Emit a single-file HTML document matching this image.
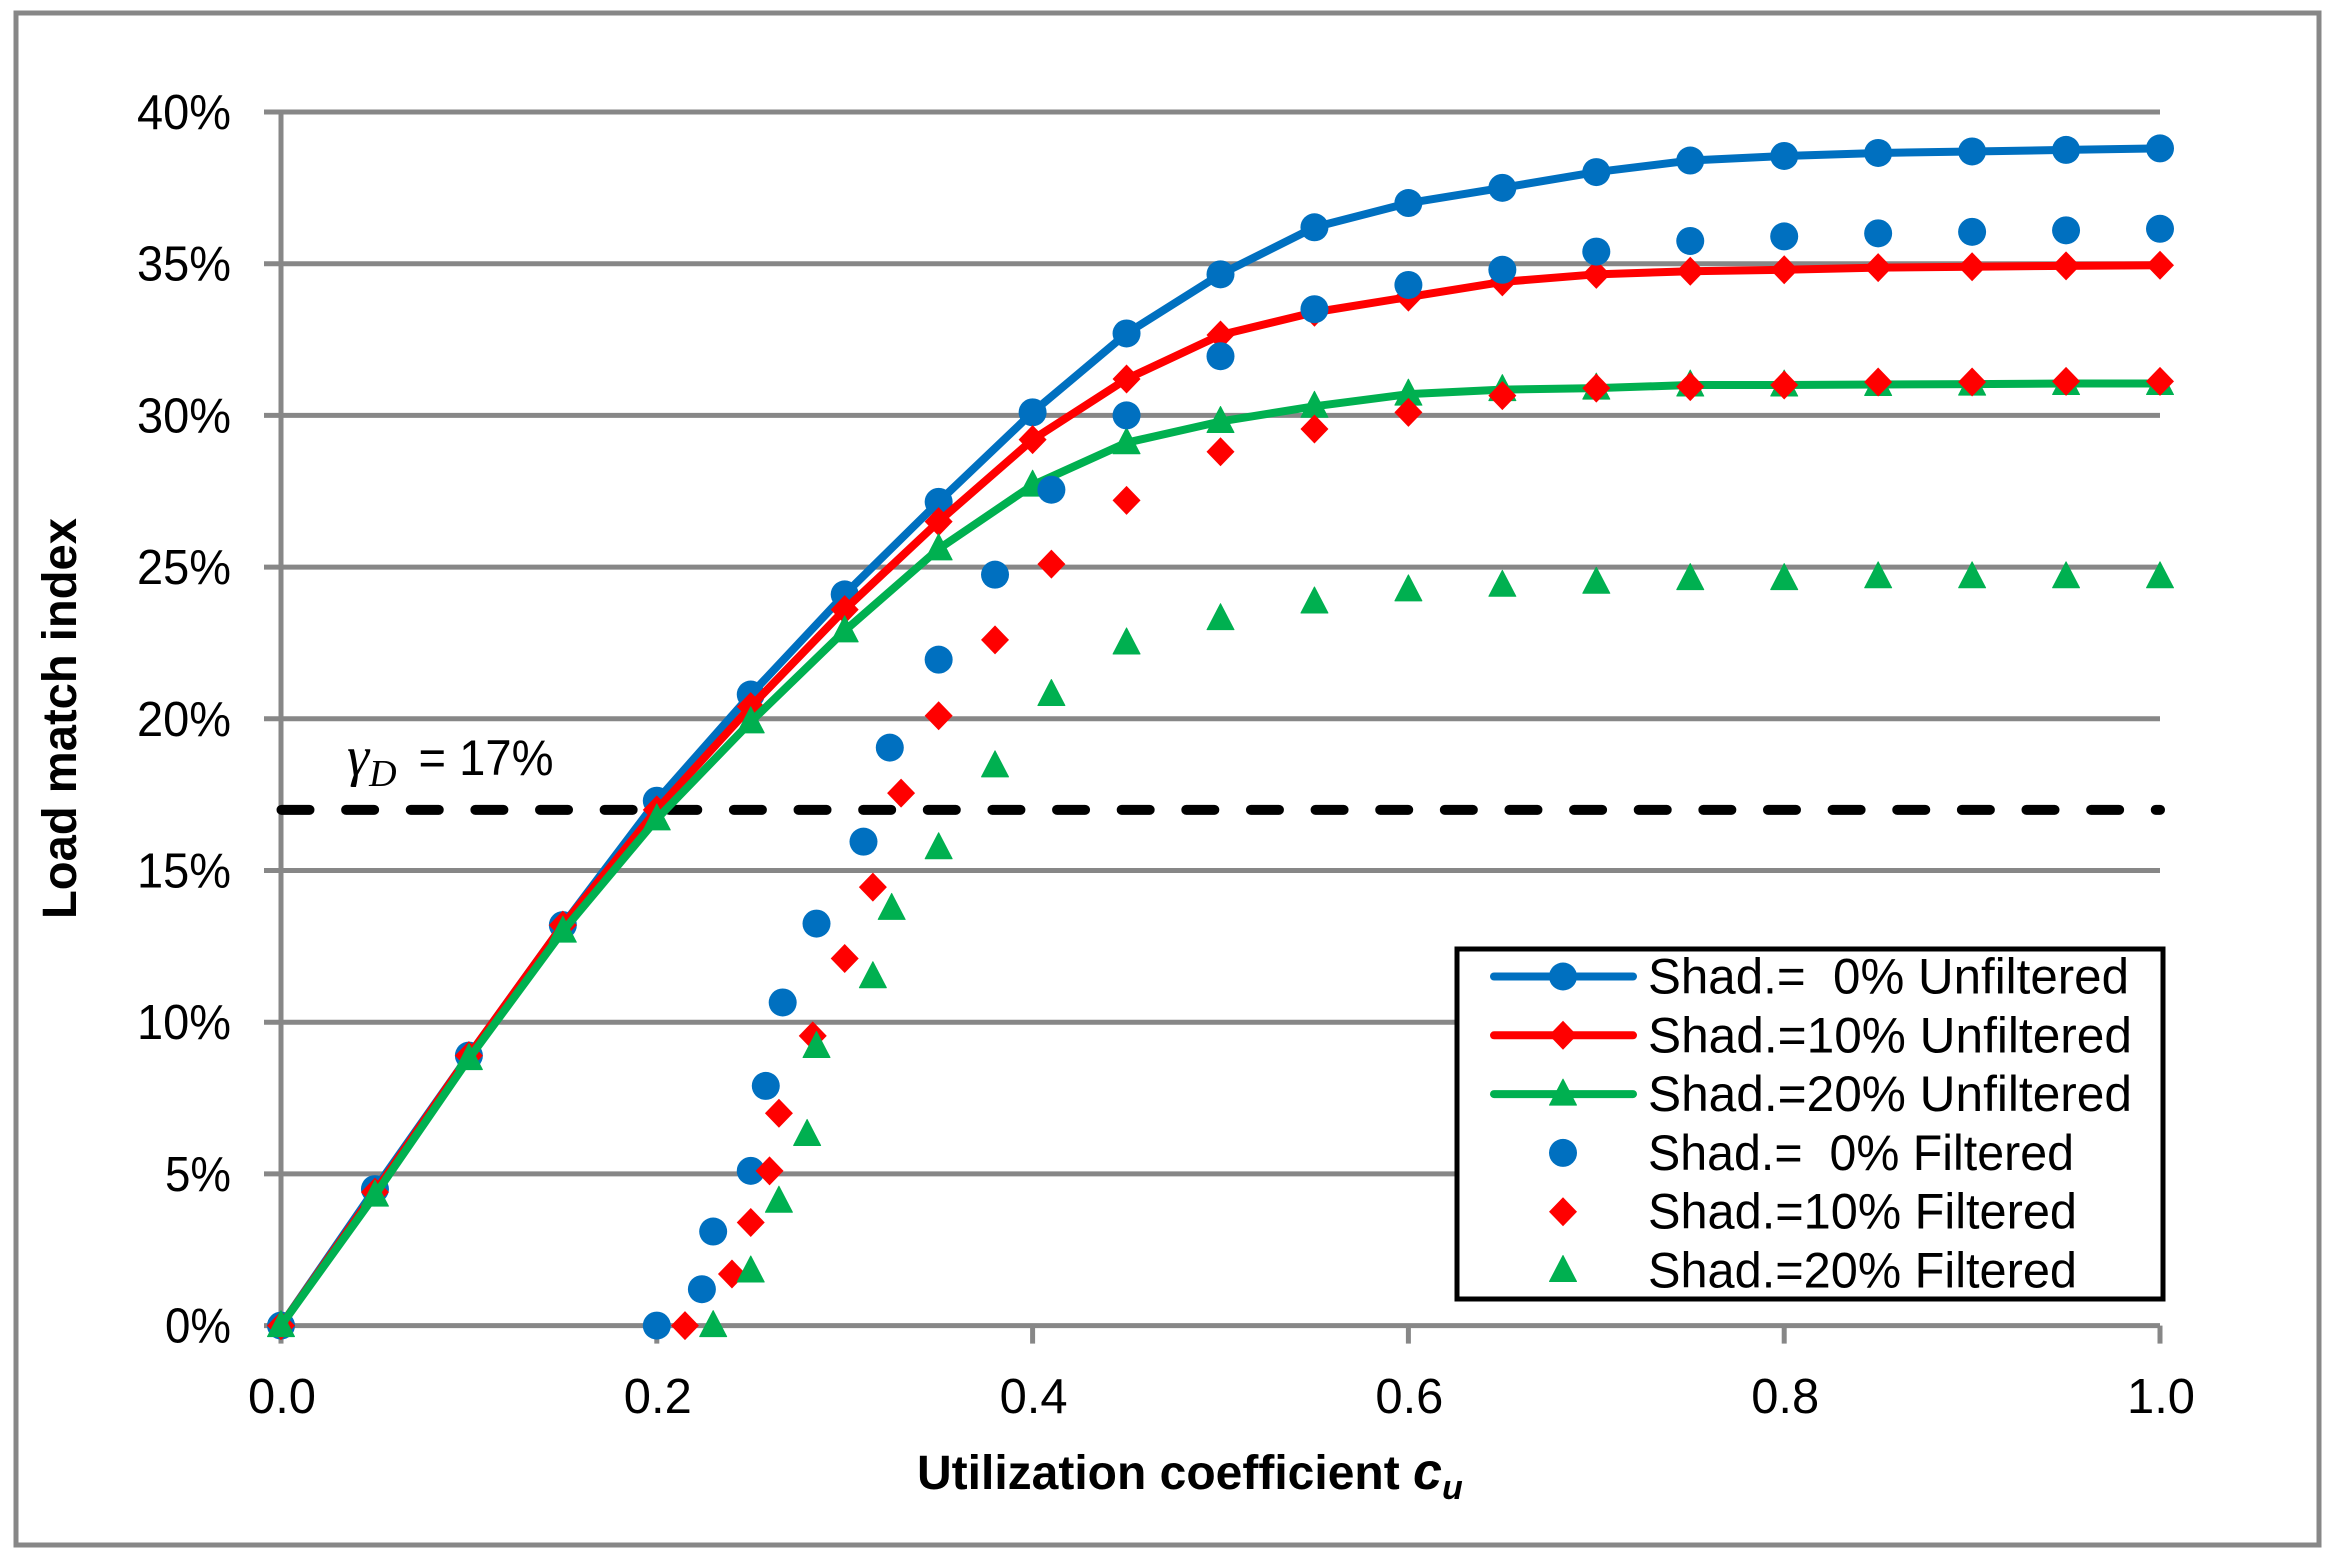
<!DOCTYPE html>
<html lang="en">
<head>
<meta charset="utf-8">
<title>Load match index vs utilization coefficient</title>
<style>
html,body{margin:0;padding:0;background:#fff;width:2334px;height:1560px;overflow:hidden}
svg{display:block}
text{font-family:"Liberation Sans",sans-serif;fill:#000}
</style>
</head>
<body>
<svg id="chart" xmlns="http://www.w3.org/2000/svg" width="2334" height="1560" viewBox="0 0 2334 1560">
  <rect x="16" y="13" width="2303" height="1532" fill="#fff" stroke="#878787" stroke-width="5"/>
  <g id="grid"></g>
  <g id="axes"></g>
  <g id="threshold"></g>
  <g id="series"></g>
  <text x="347" y="775" font-size="50"><tspan font-size="56" font-style="italic" style="font-family:'Liberation Serif',serif">γ</tspan><tspan font-size="38" dy="11" font-style="italic" style="font-family:'Liberation Serif',serif">D</tspan><tspan dy="-11" dx="22" textLength="135" lengthAdjust="spacingAndGlyphs">= 17%</tspan></text>
  <text transform="translate(76 919) rotate(-90)" font-size="48" font-weight="bold" textLength="401" lengthAdjust="spacingAndGlyphs">Load match index</text>
  <text x="917" y="1489" font-size="48" font-weight="bold">Utilization coefficient <tspan font-style="italic" font-size="52">c</tspan><tspan font-size="34" dy="10" font-style="italic">u</tspan></text>
  <g id="legend">
    <rect x="1457" y="949" width="706" height="350" fill="#fff" stroke="#000" stroke-width="5"/>
  </g>
</svg>
<script>
// Data
const yTicks = [0, 5, 10, 15, 20, 25, 30, 35, 40];
const xTicks = [0, 0.2, 0.4, 0.6, 0.8, 1.0];
const thresholdValue = 17;

const unfilteredX = [0,0.05,0.1,0.15,0.2,0.25,0.3,0.35,0.4,0.45,0.5,0.55,0.6,0.65,0.7,0.75,0.8,0.85,0.9,0.95,1];
const unfiltered0 = [0,4.5,8.9,13.2,17.3,20.8,24.1,27.15,30.1,32.7,34.65,36.2,37.0,37.5,38.02,38.4,38.55,38.65,38.7,38.75,38.8];
const unfiltered10 = [0,4.4,8.9,13.2,17.0,20.4,23.6,26.5,29.2,31.2,32.65,33.4,33.9,34.4,34.65,34.75,34.8,34.87,34.9,34.93,34.95];
const unfiltered20 = [0,4.3,8.8,13.0,16.7,19.9,22.9,25.6,27.7,29.1,29.8,30.3,30.7,30.85,30.9,31.0,31.0,31.02,31.03,31.05,31.05];

const filtered0X = [0.2,0.224,0.23,0.25,0.258,0.267,0.285,0.31,0.324,0.35,0.38,0.41,0.45,0.5,0.55,0.6,0.65,0.7,0.75,0.8,0.85,0.9,0.95,1];
const filtered0Y = [0,1.2,3.1,5.1,7.9,10.65,13.25,15.95,19.05,21.95,24.75,27.55,30.0,31.95,33.5,34.3,34.8,35.4,35.75,35.9,36.0,36.05,36.1,36.15];
const filtered10X = [0.215,0.24,0.25,0.26,0.265,0.283,0.3,0.315,0.33,0.35,0.38,0.41,0.45,0.5,0.55,0.6,0.65,0.7,0.75,0.8,0.85,0.9,0.95,1];
const filtered10Y = [0,1.7,3.4,5.1,7.0,9.55,12.1,14.45,17.55,20.1,22.6,25.1,27.2,28.8,29.55,30.1,30.65,30.9,30.95,31.0,31.1,31.1,31.12,31.12];
const filtered20X = [0.23,0.25,0.265,0.28,0.285,0.315,0.325,0.35,0.38,0.41,0.45,0.5,0.55,0.6,0.65,0.7,0.75,0.8,0.85,0.9,0.95,1];
const filtered20Y = [0,1.8,4.1,6.3,9.2,11.5,13.75,15.75,18.45,20.8,22.5,23.3,23.85,24.25,24.4,24.5,24.62,24.62,24.68,24.68,24.68,24.68];

const NS = 'http://www.w3.org/2000/svg';
const BLUE = '#0070C0', RED = '#FF0000', GREEN = '#00B050', GRAY = '#878787';
const X0 = 281, X1 = 2160, Y0 = 1325.6, Y40 = 112;
function xScale(v){ return X0 + v * (X1 - X0); }
function yScale(v){ return Y0 - v / 40 * (Y0 - Y40); }

function mk(tag, attrs, parent){
  const el = document.createElementNS(NS, tag);
  for (const k in attrs) el.setAttribute(k, attrs[k]);
  parent.appendChild(el);
  return el;
}

function marker(kind, cx, cy, color, parent){
  const r = 14;
  let el;
  if (kind === 'circle') {
    el = mk('circle', {cx: cx, cy: cy, r: r, fill: color}, parent);
  } else if (kind === 'diamond') {
    el = mk('polygon', {points: `${cx},${cy-r-0.5} ${cx+r},${cy} ${cx},${cy+r+0.5} ${cx-r},${cy}`, fill: color}, parent);
  } else {
    el = mk('polygon', {points: `${cx},${cy-15} ${cx+13.5},${cy+11} ${cx-13.5},${cy+11}`, fill: color, stroke: color, 'stroke-width': 1, 'stroke-linejoin': 'round'}, parent);
  }
  return el;
}

const gridG = document.getElementById('grid');
const axesG = document.getElementById('axes');
yTicks.forEach(function(t){
  const y = yScale(t);
  const line = mk('line', {x1: X0 - 17, x2: X1, y1: y, y2: y, stroke: GRAY, 'stroke-width': 5}, gridG);
  
  
  const lab = mk('text', {x: 231, y: y + 17, 'font-size': 49, 'text-anchor': 'end', textLength: 94, lengthAdjust: 'spacingAndGlyphs'}, axesG);
  
  
  lab.textContent = t + '%';
  if (t < 10) { lab.setAttribute('textLength', 66); }
});
const yAxis = mk('line', {x1: X0, x2: X0, y1: Y40, y2: Y0, stroke: GRAY, 'stroke-width': 5}, axesG);


xTicks.forEach(function(t){
  const x = xScale(t);
  const tick = mk('line', {x1: x, x2: x, y1: Y0, y2: Y0 + 18, stroke: GRAY, 'stroke-width': 5}, axesG);
  
  
  const lab = mk('text', {x: x + 1, y: 1413, 'font-size': 49, 'text-anchor': 'middle', textLength: 68, lengthAdjust: 'spacingAndGlyphs'}, axesG);
  
  
  lab.textContent = t.toFixed(1);
});

const thrG = document.getElementById('threshold');
const thr = mk('line', {x1: xScale(0) + 0.5, x2: xScale(1), y1: yScale(thresholdValue), y2: yScale(thresholdValue), stroke: '#000', 'stroke-width': 10, 'stroke-dasharray': '28 36.63', 'stroke-linecap': 'round'}, thrG);



const seriesG = document.getElementById('series');
function drawLine(xs, ys, color, kind, name){
  const g = mk('g', {}, seriesG);
  
  
  const pts = xs.map(function(x, i){ return xScale(x) + ',' + yScale(ys[i]); }).join(' ');
  const pl = mk('polyline', {points: pts, fill: 'none', stroke: color, 'stroke-width': 8, 'stroke-linejoin': 'round', 'stroke-linecap': 'round'}, g);
  
  
  xs.forEach(function(x, i){
    const m = marker(kind, xScale(x), yScale(ys[i]), color, g);
    
    
  });
}
function drawPoints(xs, ys, color, kind, name){
  const g = mk('g', {}, seriesG);
  
  
  xs.forEach(function(x, i){
    const m = marker(kind, xScale(x), yScale(ys[i]), color, g);
    
    
  });
}
drawLine(unfilteredX, unfiltered0, BLUE, 'circle', 'shad-0-unfiltered');
drawLine(unfilteredX, unfiltered10, RED, 'diamond', 'shad-10-unfiltered');
drawLine(unfilteredX, unfiltered20, GREEN, 'triangle', 'shad-20-unfiltered');
drawPoints(filtered0X, filtered0Y, BLUE, 'circle', 'shad-0-filtered');
drawPoints(filtered10X, filtered10Y, RED, 'diamond', 'shad-10-filtered');
drawPoints(filtered20X, filtered20Y, GREEN, 'triangle', 'shad-20-filtered');

// Legend
const legendLabels = ['Shad.=\u00A0\u00A00% Unfiltered','Shad.=10% Unfiltered','Shad.=20% Unfiltered','Shad.=\u00A0\u00A00% Filtered','Shad.=10% Filtered','Shad.=20% Filtered'];
const legendColors = [BLUE, RED, GREEN, BLUE, RED, GREEN];
const legendKinds = ['circle','diamond','triangle','circle','diamond','triangle'];
const legendWidths = [481, 484, 484, 426, 429, 429];
const legendG = document.getElementById('legend');
legendLabels.forEach(function(label, i){
  const cy = 976.5 + i * 58.8;
  const row = mk('g', {}, legendG);
  
  
  if (i < 3) {
    mk('line', {x1: 1494, x2: 1633, y1: cy, y2: cy, stroke: legendColors[i], 'stroke-width': 8, 'stroke-linecap': 'round'}, row);
  }
  marker(legendKinds[i], 1563, cy, legendColors[i], row);
  const t = mk('text', {x: 1648, y: cy + 17, 'font-size': 50, textLength: legendWidths[i], lengthAdjust: 'spacingAndGlyphs'}, row);
  
  
  t.textContent = label;
});
</script>
</body>
</html>
